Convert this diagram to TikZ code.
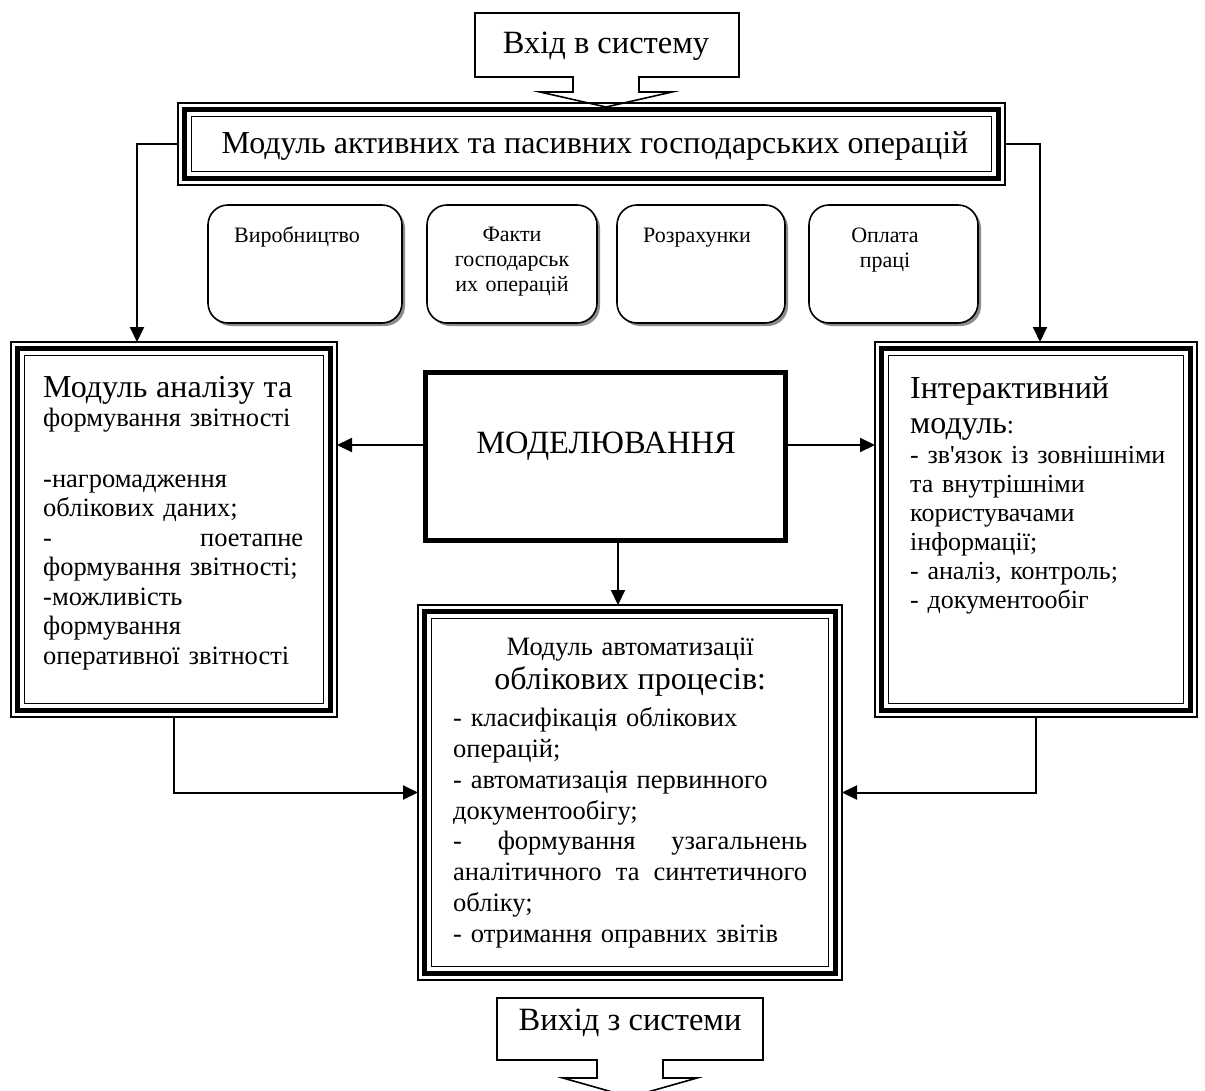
\documentclass[tikz,border=0pt]{standalone}
\usepackage{fontspec}
\setmainfont{Liberation Serif}
\usetikzlibrary{arrows.meta,shadows}

\newcommand\fsz[2]{\fontsize{#1}{#2}\selectfont}
% three nested frames: thin outer, heavy middle, thin inner
\newcommand\triframe[1]{%
  \draw[line width=1.5pt] (#1.north west) rectangle (#1.south east);
  \draw[line width=4.5pt] ([shift={(6.5,6.5)}]#1.north west) rectangle ([shift={(-6.5,-6.5)}]#1.south east);
  \draw[line width=1.5pt] ([shift={(13.5,13.5)}]#1.north west) rectangle ([shift={(-13.5,-13.5)}]#1.south east);}

\begin{document}
\begin{tikzpicture}[x=1pt,y=-1pt,
  frame/.style={minimum width=#1,inner sep=0pt,outer sep=0pt,minimum height=375pt},
  link/.style={line width=2pt,-{Triangle[length=15pt,width=14pt]}},
  arrowbox/.style={line width=1.6pt,fill=white},
  rbox/.style={draw,line width=1.6pt,rounded corners=20pt,fill=white,
    minimum height=118pt,minimum width=#1,inner sep=0pt,
    drop shadow={shadow xshift=3pt,shadow yshift=-3pt,fill=black!45,opacity=1}},
  rtext/.style={anchor=base,align=center,inner sep=0pt,text width=160pt,font=\fsz{22}{25}},
  body/.style={anchor=base west,align=left,inner sep=0pt,text width=#1}]

\useasboundingbox (0,0) rectangle (1205,1090);
\clip (0,0) rectangle (1205,1090);

% entry arrow
\draw[arrowbox] (475,13) -- (739,13) -- (739,77) -- (639,77) -- (639,92) -- (672,92)
  -- (606,107) -- (540,92) -- (573,92) -- (573,77) -- (475,77) -- cycle;
\node[anchor=base,inner sep=0pt,font=\fsz{32.5}{36}] (intext) at (606,53) {Вхід в систему};

% module of business operations
\node[inner sep=0pt,outer sep=0pt,minimum width=827pt,minimum height=82pt] (top) at (591.5,144) {};
\triframe{top}
\node[anchor=base,inner sep=0pt,font=\fsz{32}{36}] (toptext) at (595,153)
  {Модуль активних та пасивних господарських операцій};

% rounded boxes
\node[rbox=194pt] (r1) at (305,264) {};
\node[rbox=170pt] (r2) at (512,264) {};
\node[rbox=168pt] (r3) at (701,264) {};
\node[rbox=169pt] (r4) at (893.5,264) {};
\node[rtext] (r1t) at (297,242) {Виробництво};
\node[rtext] (r2t) at (512,241) {Факти\\господарськ\\их операцій};
\node[rtext] (r3t) at (697,242) {Розрахунки};
\node[rtext] (r4t) at (885,242) {Оплата\\праці};

% side modules and bottom module
\node[frame=326pt] (lb) at (174,529.5) {};
\node[frame=322pt] (rb) at (1036,529.5) {};
\node[frame=424pt] (bb) at (630,792.5) {};
\triframe{lb}
\triframe{rb}
\triframe{bb}

% modelling block
\node[draw,line width=5pt,inner sep=0pt,minimum width=360pt,minimum height=168pt] (mod) at (605.5,456.5) {};
\node[anchor=base,inner sep=0pt,font=\fsz{32.5}{38}] (modtext) at (606,453) {МОДЕЛЮВАННЯ};

\node[body=280pt,font=\fsz{26.5}{29.5}] (lbt) at (43,397)
  {{\fsz{32}{30}Модуль аналізу та}\\
   формування звітності\\[31pt]
   -нагромадження\\
   облікових даних;\\
   \makebox[260pt]{-\hfill поетапне}\\
   формування звітності;\\
   -можливість\\
   формування\\
   оперативної звітності};

\node[body=285pt,font=\fsz{26}{29}] (rbt) at (910,398)
  {{\fsz{32}{29}Інтерактивний}\\[6pt]
   {\fsz{32}{29}модуль}:\\[1pt]
   - зв\textquotesingle язок із зовнішніми\\
   та внутрішніми\\
   користувачами\\
   інформації;\\
   - аналіз, контроль;\\
   - документообіг};

\node[body=360pt,font=\fsz{26.5}{30.8}] (bbt) at (453,655)
  {\makebox[354pt]{Модуль автоматизації}\\[4pt]
   \makebox[354pt]{\fsz{32}{31}облікових процесів:}\\[6pt]
   - класифікація облікових\\
   операцій;\\
   - автоматизація первинного\\
   документообігу;\\
   \makebox[354pt]{-\hfill формування\hfill узагальнень}\\
   \makebox[354pt]{аналітичного\hfill та\hfill синтетичного}\\
   обліку;\\
   - отримання оправних звітів};

% connectors
\draw[link] (top.west) -| ([xshift=-37pt]lb.north);
\draw[link] (top.east) -| ([xshift=4pt]rb.north);
\coordinate (ml) at ([yshift=11.5pt]mod.west);
\coordinate (mr) at ([yshift=11.5pt]mod.east);
\coordinate (mb) at ([xshift=12.5pt]mod.south);
\draw[link] (ml) -- (ml -| lb.east);
\draw[link] (mr) -- (mr -| rb.west);
\draw[link] (mb) -- (mb |- bb.north);
\draw[link] (lb.south) |- (bb.west);
\draw[link] (rb.south) |- (bb.east);

% exit arrow
\draw[arrowbox] (497,998) -- (763,998) -- (763,1060) -- (663,1060) -- (663,1078) -- (697,1078)
  -- (630,1097) -- (563,1078) -- (597,1078) -- (597,1060) -- (497,1060) -- cycle;
\node[anchor=base,inner sep=0pt,font=\fsz{32.5}{36}] (outtext) at (630,1030) {Вихід з системи};
\end{tikzpicture}
\end{document}
